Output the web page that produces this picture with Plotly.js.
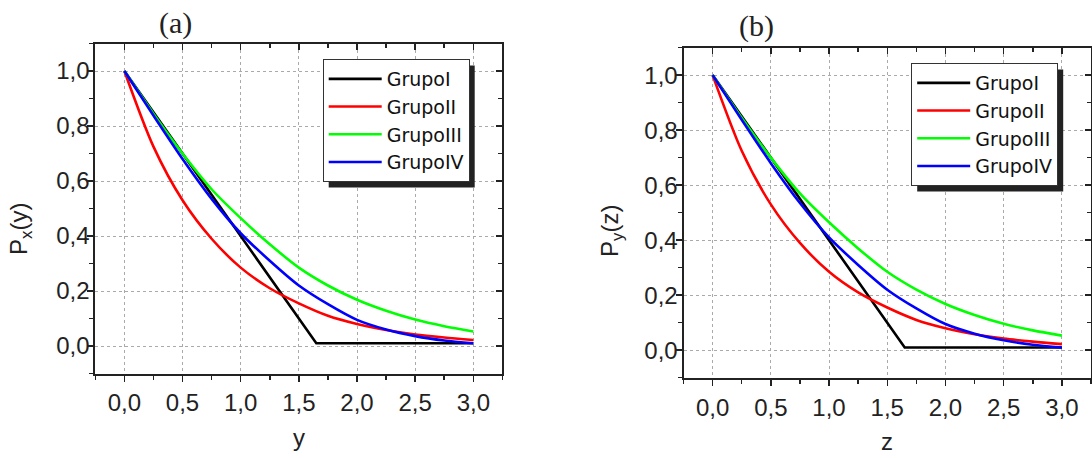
<!DOCTYPE html>
<html>
<head>
<meta charset="utf-8">
<script src="https://cdn.plot.ly/plotly-3.0.1.min.js"></script>
<style>html,body{margin:0;padding:0;background:#fff;}#chart{width:1092px;height:458px;}</style>
</head>
<body>
<div id="chart"></div>
<script>
// ---- data ----
const seriesNames = ["GrupoI", "GrupoII", "GrupoIII", "GrupoIV"];
const seriesColors = ["#000000", "#ff0000", "#00ff00", "#0000ff"];

// GrupoI (piecewise line, then flat)
const xGrupoI = [0.0, 0.5, 1.0, 1.35, 1.65, 3.0];
const yGrupoI = [1.0, 0.70, 0.40, 0.19, 0.01, 0.01];

// common abscissa for the smooth curves
const xCurve = [0.0, 0.25, 0.5, 0.75, 1.0, 1.25, 1.5, 1.75, 2.0, 2.25, 2.5, 2.75, 3.0];
const yGrupoII  = [1.0, 0.725, 0.53, 0.39, 0.285, 0.21, 0.155, 0.11, 0.08, 0.058, 0.042, 0.031, 0.022];
const yGrupoIII = [1.0, 0.845, 0.70, 0.57, 0.465, 0.37, 0.285, 0.22, 0.168, 0.128, 0.096, 0.072, 0.053];
const yGrupoIV  = [1.0, 0.838, 0.68, 0.535, 0.41, 0.31, 0.22, 0.152, 0.095, 0.06, 0.036, 0.02, 0.01];

const panelTitles = ["(a)", "(b)"];
const xTitles = ["y", "z"];
const yTitles = ["P<sub>x</sub>(y)", "P<sub>y</sub>(z)"];

// ---- layout helpers ----
const W = 1092, H = 458;
const px = v => v / W;
const py = v => 1 - v / H;

const panels = [
  {l: 95.3, r: 502.4, t: 43.5, b: 373.5, leg: [322.7, 59], ttl: [175, 23], xt: [299, 437], yt: [20, 229]},
  {l: 683.5, r: 1091, t: 47.6, b: 377.7, leg: [911.2, 63], ttl: [756, 26], xt: [887, 441], yt: [611, 231]}
];

const tickFont = {family: "Liberation Sans, Arial, sans-serif", size: 24, color: "#222"};
const axCol = "#222";

const ys = [yGrupoI, yGrupoII, yGrupoIII, yGrupoIV];
const traces = [];
const layout = {
  width: W, height: H,
  margin: {l: 0, r: 0, t: 0, b: 0},
  paper_bgcolor: "#fff", plot_bgcolor: "#fff",
  separators: ",.",
  showlegend: true,
  annotations: [],
  shapes: []
};

panels.forEach((p, i) => {
  const xa = i === 0 ? "x" : "x2";
  const ya = i === 0 ? "y" : "y2";
  const xo = i === 0 ? "x3" : "x4";
  const yo = i === 0 ? "y3" : "y4";
  const legName = i === 0 ? "legend" : "legend2";
  seriesNames.forEach((nm, k) => {
    traces.push({
      type: "scatter", mode: "lines",
      x: k === 0 ? xGrupoI : xCurve,
      y: ys[k],
      name: nm,
      line: {color: seriesColors[k], width: 2.6, shape: k === 0 ? "linear" : "spline", smoothing: 0.8},
      xaxis: xa, yaxis: ya, legend: legName, hoverinfo: "skip"
    });
  });
  traces.push({type: "scatter", mode: "lines", x: [], y: [], xaxis: xo, yaxis: yo, showlegend: false, hoverinfo: "skip"});

  const xr = [-0.25, 3.25], yr = [-0.1, 1.1];
  const xdom = [px(p.l), px(p.r)];
  const ydom = [py(p.b), py(p.t)];
  const xKey = i === 0 ? "xaxis" : "xaxis2";
  const yKey = i === 0 ? "yaxis" : "yaxis2";
  const xoKey = i === 0 ? "xaxis3" : "xaxis4";
  const yoKey = i === 0 ? "yaxis3" : "yaxis4";

  layout[xKey] = {
    domain: xdom, anchor: ya, range: xr, autorange: false,
    tick0: 0, dtick: 0.5, tickformat: ".1f",
    ticks: "outside", ticklen: 6, tickwidth: 1.5, tickcolor: axCol,
    minor: {dtick: 0.25, tick0: 0, ticks: "outside", ticklen: 4, tickwidth: 1.5, tickcolor: axCol, showgrid: false},
    showline: true, linecolor: axCol, linewidth: 2, mirror: false,
    showgrid: true, gridcolor: "#aaaaaa", griddash: "dot", gridwidth: 1,
    zeroline: false, tickfont: tickFont, ticklabelstandoff: 1
  };
  layout[yKey] = {
    domain: ydom, anchor: xa, range: yr, autorange: false,
    tick0: 0, dtick: 0.2, tickformat: ".1f",
    ticks: "outside", ticklen: 6, tickwidth: 1.5, tickcolor: axCol,
    minor: {dtick: 0.1, tick0: 0, ticks: "outside", ticklen: 4, tickwidth: 1.5, tickcolor: axCol, showgrid: false},
    showline: true, linecolor: axCol, linewidth: 2, mirror: false,
    showgrid: true, gridcolor: "#aaaaaa", griddash: "dot", gridwidth: 1,
    zeroline: false, tickfont: tickFont, ticklabelstandoff: -7
  };
  layout[xoKey] = {
    overlaying: xa, anchor: ya, side: "top", range: xr, autorange: false,
    tick0: 0, dtick: 0.5, ticks: "inside", ticklen: 6, tickwidth: 1.5, tickcolor: axCol,
    minor: {dtick: 0.25, tick0: 0, ticks: "inside", ticklen: 4, tickwidth: 1.5, tickcolor: axCol, showgrid: false},
    showticklabels: false, showline: true, linecolor: axCol, linewidth: 2,
    showgrid: false, zeroline: false
  };
  layout[yoKey] = {
    overlaying: ya, anchor: xa, side: "right", range: yr, autorange: false,
    tick0: 0, dtick: 0.2, ticks: "inside", ticklen: 6, tickwidth: 1.5, tickcolor: axCol,
    minor: {dtick: 0.1, tick0: 0, ticks: "inside", ticklen: 4, tickwidth: 1.5, tickcolor: axCol, showgrid: false},
    showticklabels: false, showline: true, linecolor: axCol, linewidth: 2,
    showgrid: false, zeroline: false
  };

  layout[legName] = {
    x: px(p.leg[0]), y: py(p.leg[1]), xanchor: "left", yanchor: "top",
    xref: "paper", yref: "paper",
    bgcolor: "#ffffff", bordercolor: "#333", borderwidth: 1,
    font: {family: "DejaVu Sans, Verdana, sans-serif", size: 19, color: "#111"},
    itemwidth: 53, tracegroupgap: 0, traceorder: "normal"
  };

  layout.annotations.push({
    text: panelTitles[i], xref: "paper", yref: "paper",
    x: px(p.ttl[0]), y: py(p.ttl[1]), xanchor: "center", yanchor: "middle",
    showarrow: false, font: {family: "Liberation Serif, Times New Roman, serif", size: 30, color: "#222"}
  });
  layout.annotations.push({
    text: xTitles[i], xref: "paper", yref: "paper",
    x: px(p.xt[0]), y: py(p.xt[1]), xanchor: "center", yanchor: "middle",
    showarrow: false, font: tickFont
  });
  layout.annotations.push({
    text: yTitles[i], xref: "paper", yref: "paper", textangle: -90,
    x: px(p.yt[0]), y: py(p.yt[1]), xanchor: "center", yanchor: "middle",
    showarrow: false, font: tickFont
  });
});

const gd = document.getElementById("chart");
Plotly.newPlot(gd, traces, layout, {staticPlot: true, displayModeBar: false}).then(() => {
  // drop shadow behind each legend box, placed from the rendered legend size
  const host = gd.getBoundingClientRect();
  const shapes = [];
  ["legend", "legend2"].forEach(id => {
    const bg = gd.querySelector("g." + id + " rect.bg");
    if (!bg) return;
    const r = bg.getBoundingClientRect();
    const x0 = r.left - host.left, y0 = r.top - host.top;
    shapes.push({
      type: "rect", xref: "paper", yref: "paper", layer: "above",
      x0: px(x0 + 5.5), x1: px(x0 + r.width + 5.5),
      y0: py(y0 + 6), y1: py(y0 + r.height + 6),
      fillcolor: "#222", line: {width: 0}
    });
  });
  return Plotly.relayout(gd, {shapes: shapes});
});
</script>
</body>
</html>
